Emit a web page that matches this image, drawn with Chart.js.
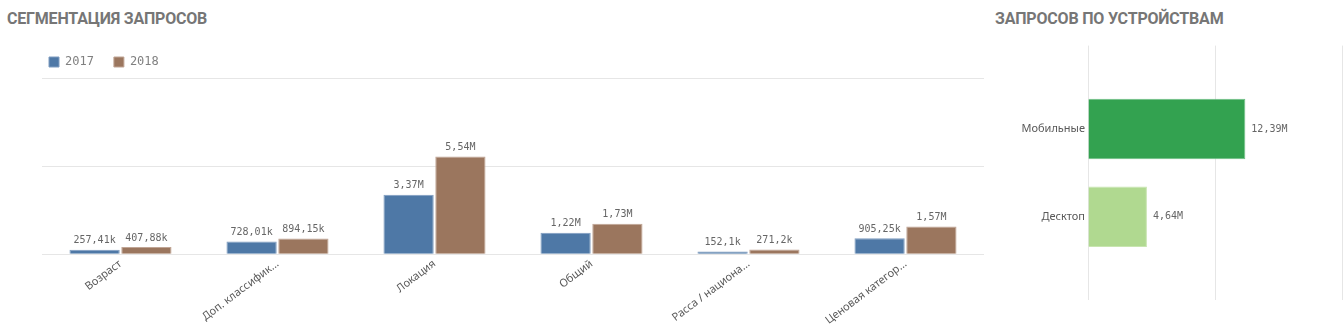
<!DOCTYPE html>
<html>
<head>
<meta charset="utf-8">
<script src="https://cdn.jsdelivr.net/npm/chart.js@4.4.1/dist/chart.umd.min.js"></script>
<style>
  body { margin: 0; background: #fff; width: 1344px; height: 334px; overflow: hidden; position: relative; }
  .title { position: absolute; top: 9px; font: bold 16px Roboto, sans-serif; color: #767676; letter-spacing: -0.2px; }
  #seg-box { position: absolute; left: 0; top: 36px; width: 990px; height: 294px; }
  #dev-box { position: absolute; left: 990px; top: 36px; width: 354px; height: 298px; }
</style>
</head>
<body>
<div class="title" style="left:7px">СЕГМЕНТАЦИЯ ЗАПРОСОВ</div>
<div class="title" style="left:995px">ЗАПРОСОВ ПО УСТРОЙСТВАМ</div>
<div id="seg-box"><canvas id="chart-seg"></canvas></div>
<div id="dev-box"><canvas id="chart-dev"></canvas></div>
<script>
const segCategories = ['Возраст', 'Доп. классифик…', 'Локация', 'Общий', 'Расса / национа…', 'Ценовая категор…'];
const seg2017 = [257410, 728010, 3370000, 1220000, 152100, 905250];
const seg2018 = [407880, 894150, 5540000, 1730000, 271200, 1570000];
const segTicks = [0, 5000000, 10000000];

const deviceLabels = ['Мобильные', 'Десктоп'];
const deviceValues = [12390000, 4640000];
const deviceTicks = [0, 10000000, 20000000];

const gridColor = '#e6e6e6';
const labelColor = '#595959';
const valueFont = '10px "DejaVu Sans Mono", monospace';

function fmt(v) {
  let n, suf;
  if (v >= 1e6) { n = v / 1e6; suf = 'M'; } else { n = v / 1e3; suf = 'k'; }
  return (Math.round(n * 100) / 100).toString().replace('.', ',') + suf;
}

// prints the formatted value next to each bar
const valueLabels = {
  id: 'valueLabels',
  afterDatasetsDraw(chart) {
    const ctx = chart.ctx;
    const horiz = chart.options.indexAxis === 'y';
    ctx.save();
    ctx.font = valueFont;
    ctx.fillStyle = '#666';
    chart.data.datasets.forEach((ds, di) => {
      chart.getDatasetMeta(di).data.forEach((bar, i) => {
        const raw = ds.data[i];
        const v = typeof raw === 'object' ? raw.x : raw;
        if (horiz) {
          ctx.textAlign = 'left'; ctx.textBaseline = 'middle';
          ctx.fillText(fmt(v), bar.x + 6, bar.y);
        } else {
          ctx.textAlign = 'center'; ctx.textBaseline = 'bottom';
          ctx.fillText(fmt(v), bar.x, bar.y - 4);
        }
      });
    });
    ctx.restore();
  }
};

new Chart(document.getElementById('chart-seg'), {
  type: 'bar',
  data: {
    labels: segCategories,
    datasets: [
      { label: '2017', data: seg2017, backgroundColor: '#4e78a6', borderColor: '#7f9cc0', borderWidth: 1, categoryPercentage: 0.66, barPercentage: 0.97 },
      { label: '2018', data: seg2018, backgroundColor: '#9b765e', borderColor: '#c0a595', borderWidth: 1, categoryPercentage: 0.66, barPercentage: 0.97 }
    ]
  },
  options: {
    responsive: true, maintainAspectRatio: false, animation: false,
    layout: { padding: { left: 29, right: 6, top: 0, bottom: 0 } },
    plugins: {
      legend: {
        position: 'top', align: 'start',
        labels: { boxWidth: 10, boxHeight: 10, padding: 20, color: '#808080', font: { family: '"DejaVu Sans Mono", monospace', size: 12 } }
      },
      tooltip: { enabled: false }
    },
    scales: {
      x: {
        grid: { display: false, drawTicks: false }, border: { display: false },
        ticks: { color: labelColor, padding: 3, minRotation: 37, maxRotation: 37, font: { family: '"Noto Sans", sans-serif', size: 11 } }
      },
      y: {
        min: 0, max: 10000000,
        afterBuildTicks: s => { s.ticks = segTicks.map(v => ({ value: v })); },
        afterFit: s => { s.width = 13; },
        grid: { color: gridColor, drawTicks: false }, border: { display: false },
        ticks: { display: false }
      }
    }
  },
  plugins: [valueLabels]
});

new Chart(document.getElementById('chart-dev'), {
  type: 'bar',
  data: {
    datasets: [{
      data: deviceValues.map((v, i) => ({ x: v, y: i })),
      backgroundColor: ['#33a250', '#b0d990'],
      borderColor: ['#6cbd82', '#c8e5b0'],
      borderWidth: 1,
      categoryPercentage: 0.69, barPercentage: 1
    }]
  },
  options: {
    indexAxis: 'y',
    responsive: true, maintainAspectRatio: false, animation: false,
    layout: { padding: { left: 0, right: 2, top: 9, bottom: 34 } },
    plugins: { legend: { display: false }, tooltip: { enabled: false } },
    scales: {
      x: {
        min: 0, max: 20000000,
        afterBuildTicks: s => { s.ticks = deviceTicks.map(v => ({ value: v })); },
        grid: { color: gridColor, drawTicks: false }, border: { display: false },
        ticks: { display: false }
      },
      y: {
        type: 'linear', reverse: true, min: -0.95, max: 1.95, offset: false,
        afterBuildTicks: s => { s.ticks = deviceLabels.map((_, i) => ({ value: i })); },
        afterFit: s => { s.width = 98; },
        grid: { display: false, offset: false, drawTicks: false }, border: { display: false },
        ticks: { color: labelColor, padding: 3, font: { family: '"Noto Sans", sans-serif', size: 11 }, callback: v => deviceLabels[v] }
      }
    }
  },
  plugins: [valueLabels]
});
</script>
</body>
</html>
